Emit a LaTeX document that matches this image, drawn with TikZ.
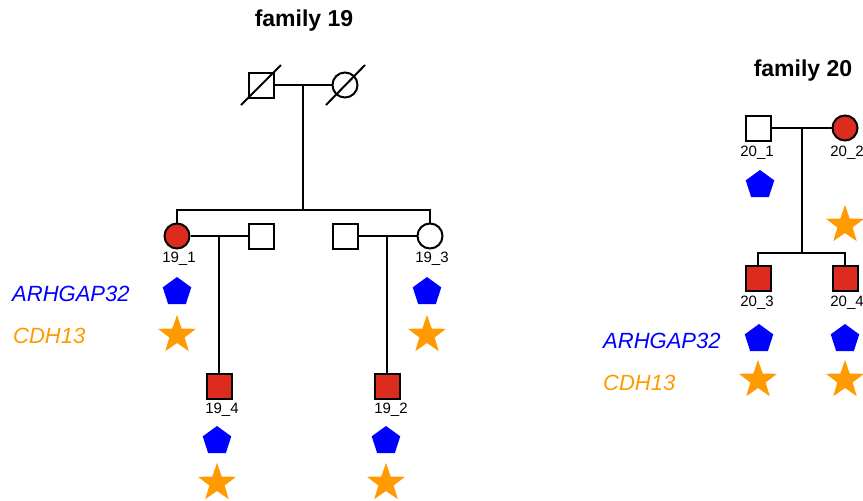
\documentclass[tikz,border=0pt]{standalone}
\usepackage{fontspec}
\setmainfont{Liberation Sans}
\usepackage{tikz}
\usetikzlibrary{shapes.geometric}
\definecolor{pedRed}{HTML}{DD2B1E}
\definecolor{pedBlue}{HTML}{0000FF}
\definecolor{pedOrange}{HTML}{FF9A00}

\tikzset{
  male/.style={draw, rectangle, line width=2pt, minimum size=25pt, inner sep=0pt, fill=white},
  female/.style={draw, circle, line width=2pt, minimum size=25pt, inner sep=0pt, fill=white},
  affected/.style={fill=pedRed},
  idlabel/.style={font=\fontsize{15}{15}\selectfont, inner sep=0pt},
  argmark/.style={regular polygon, regular polygon sides=5, fill=pedBlue, minimum size=30pt, inner sep=0pt},
  cdhmark/.style={star, star points=5, star point ratio=2.5, fill=pedOrange, minimum size=40pt, inner sep=0pt},
  genename/.style={font=\fontsize{22}{22}\selectfont\itshape, anchor=west, inner sep=0pt},
  famtitle/.style={font=\fontsize{23}{23}\selectfont\bfseries, inner sep=0pt},
  link/.style={line width=2pt}
}

\begin{document}
\begin{tikzpicture}[x=1pt, y=-1pt]
  \useasboundingbox (0,0) rectangle (863,501);

  % family 19
  \node[famtitle] (t19) at (304,21) {family 19};
  \node[male] (g19a) at (261,85) {};
  \node[female] (g19b) at (345,85) {};
  \draw[link] ([shift={(-20,20)}]g19a.center) -- ([shift={(20,-20)}]g19a.center);
  \draw[link] ([shift={(-19,20)}]g19b.center) -- ([shift={(20,-20)}]g19b.center);
  \draw[link] (g19a) -- (g19b);
  \coordinate (m19) at (303,85);
  \coordinate (s19) at (303,210);
  \draw[link] (m19) -- (s19);

  \node[female, affected] (i19_1) at (177,236) {};
  \node[male] (sp19a) at (261,236) {};
  \node[male] (sp19b) at (345,236) {};
  \node[female] (i19_3) at (430,236) {};
  \draw[link] (i19_1) |- (s19) -| (i19_3);
  \draw[link] (i19_1) -- (sp19a);
  \draw[link] (sp19b) -- (i19_3);
  \coordinate (m19a) at (219,236);
  \coordinate (m19b) at (387,236);

  \node[male, affected] (i19_4) at (219,386) {};
  \node[male, affected] (i19_2) at (387,386) {};
  \draw[link] (m19a) -- (i19_4);
  \draw[link] (m19b) -- (i19_2);

  \node[idlabel] (l19_1) at (179,259) {19\_1};
  \node[idlabel] (l19_3) at (432,259) {19\_3};
  \node[idlabel] (l19_4) at (222,410) {19\_4};
  \node[idlabel] (l19_2) at (391,410) {19\_2};

  \node[argmark] (a19_1) at (177,292) {};
  \node[cdhmark] (c19_1) at (177,335) {};
  \node[argmark] (a19_3) at (427,292) {};
  \node[cdhmark] (c19_3) at (427,335) {};
  \node[argmark] (a19_4) at (217,441) {};
  \node[cdhmark] (c19_4) at (217,483) {};
  \node[argmark] (a19_2) at (386,441) {};
  \node[cdhmark] (c19_2) at (386,483) {};

  \node[genename, pedBlue] (g19arg) at (12,294) {ARHGAP32};
  \node[genename, pedOrange] (g19cdh) at (13,336) {CDH13};

  % family 20
  \node[famtitle] (t20) at (803,71) {family 20};
  \node[male] (i20_1) at (758,128) {};
  \node[female, affected] (i20_2) at (845,128) {};
  \draw[link] (i20_1) -- (i20_2);
  \coordinate (m20) at (802,128);
  \coordinate (s20) at (802,253);
  \draw[link] (m20) -- (s20);

  \node[male, affected] (i20_3) at (758,278) {};
  \node[male, affected] (i20_4) at (845,278) {};
  \draw[link] (i20_3) |- (s20) -| (i20_4);

  \node[idlabel] (l20_1) at (757,153) {20\_1};
  \node[idlabel] (l20_2) at (847,153) {20\_2};
  \node[idlabel] (l20_3) at (757,303) {20\_3};
  \node[idlabel] (l20_4) at (847,303) {20\_4};

  \node[argmark] (a20_1) at (760,185) {};
  \node[cdhmark] (c20_2) at (845,225) {};
  \node[argmark] (a20_3) at (759,339) {};
  \node[cdhmark] (c20_3) at (758,380) {};
  \node[argmark] (a20_4) at (845,339) {};
  \node[cdhmark] (c20_4) at (845,380) {};

  \node[genename, pedBlue] (g20arg) at (603,341) {ARHGAP32};
  \node[genename, pedOrange] (g20cdh) at (603,383) {CDH13};
\end{tikzpicture}
\end{document}
